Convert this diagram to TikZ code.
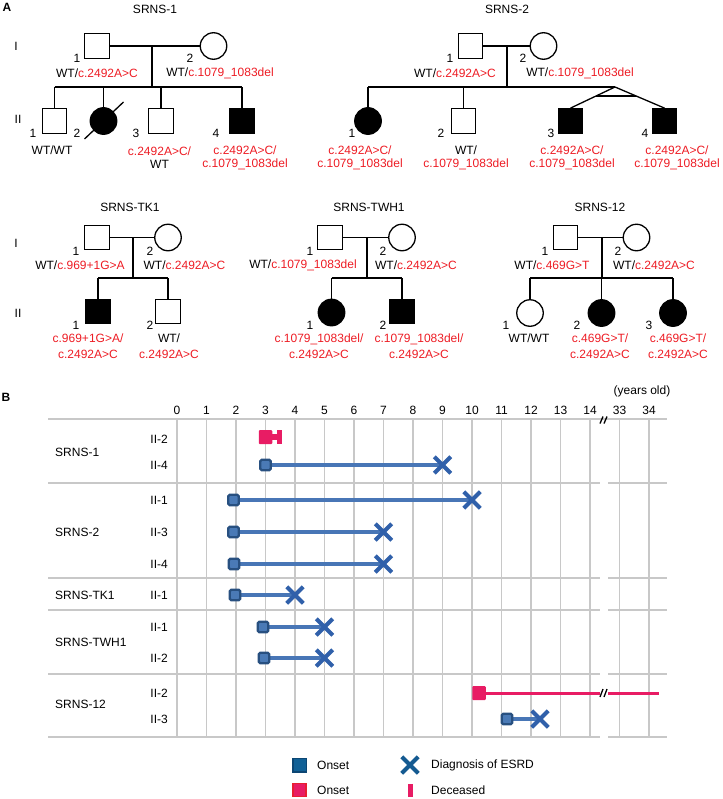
\documentclass[tikz,border=0pt]{standalone}
\usepackage{fontspec}
\setmainfont{Liberation Sans}
\usepackage{xcolor}
\usetikzlibrary{calc,shapes.misc,backgrounds}
\definecolor{mutred}{RGB}{237,28,36}
\definecolor{gridgray}{RGB}{200,200,200}
\definecolor{barblue}{RGB}{72,118,182}
\definecolor{xblue}{RGB}{48,96,170}
\definecolor{onsetfill}{RGB}{74,122,182}
\definecolor{onsetedge}{RGB}{40,80,128}
\definecolor{pinkc}{RGB}{232,28,100}
\definecolor{legblue}{RGB}{16,96,150}
\definecolor{legedge}{RGB}{12,70,115}
\definecolor{legx}{RGB}{20,90,145}
\definecolor{legred}{RGB}{232,30,50}
\newcommand\mut[1]{\textcolor{mutred}{#1}}
\newcommand\pedA{\fontsize{12bp}{13bp}\selectfont}
\newcommand\pedB{\fontsize{12bp}{16.5bp}\selectfont}

\begin{document}
\begin{tikzpicture}[x=1bp,y=-1bp,
  male/.style={draw,rectangle,line width=1.3bp,minimum size=24.5bp,inner sep=0pt},
  female/.style={draw,circle,line width=1.3bp,minimum size=26.5bp,inner sep=0pt},
  aff/.style={fill=black},
  ln/.style={line width=1.3bp},
  lbl/.style={font=\pedA,inner sep=0pt},
  genoA/.style={font=\pedA,align=center,inner sep=0pt},
  genoB/.style={font=\pedB,align=center,inner sep=0pt},
  vgrid/.style={draw=gridgray,line width=1.2bp},
  hgrid/.style={draw=gridgray,line width=2.4bp},
  onset/.style={rectangle,draw=onsetedge,fill=onsetfill,line width=2.4bp,minimum size=10.5bp,inner sep=0pt,rounded corners=1.5bp},
  esrd/.style={cross out,draw=xblue,line width=4bp,minimum size=12.5bp,inner sep=0pt},
  bar/.style={draw=barblue,line width=4.5bp},
  deadon/.style={rectangle,fill=pinkc,minimum width=13.5bp,minimum height=14bp,inner sep=0pt,rounded corners=1bp},
  deadline/.style={draw=pinkc,line width=3bp},
  deceased/.style={rectangle,fill=pinkc,minimum width=4.5bp,minimum height=14bp,inner sep=0pt},
  brk/.style={line width=1.3bp}]
\useasboundingbox (0,0) rectangle (723,799);

% ---- panel A: pedigrees
\node[font=\pedA\bfseries] (pa) at (7,7.5) {A};
\node[lbl] (g1) at (16,46) {I};  \node[lbl] (g2) at (18,119) {II};
\node[lbl] (g3) at (16,243) {I}; \node[lbl] (g4) at (18,313) {II};

% SRNS-1
\node[lbl] (t1) at (155,9) {SRNS-1};
\node[male] (p1i1) at (97,46) {};
\node[female] (p1i2) at (213.5,46) {};
\coordinate (p1m) at (152,46); \coordinate (p1sib) at (152,87);
\node[male] (p1ii1) at (54.5,121) {};
\node[female,aff] (p1ii2) at (103.5,121) {};
\node[male] (p1ii3) at (161,121) {};
\node[male,aff] (p1ii4) at (242,121) {};
\draw[ln] (p1i1) -- (p1i2);
\draw[ln] (p1m) -- (p1sib);
\draw[ln] (p1ii1|-p1sib) -- (p1ii4|-p1sib);
\foreach \p in {p1ii1,p1ii2,p1ii3,p1ii4} \draw[ln] (\p|-p1sib) -- (\p);
\draw[ln] ([shift={(-19,18)}]p1ii2.center) -- ([shift={(20,-19)}]p1ii2.center);
\node[lbl] (n1a) at (77,58) {1};  \node[lbl] (n1b) at (190,58) {2};
\node[lbl] (n1c) at (33,133) {1}; \node[lbl] (n1d) at (77,133) {2};
\node[lbl] (n1e) at (136,133) {3}; \node[lbl] (n1f) at (216,133) {4};
\node[genoA] (q1a) at (97,73.5) {WT/\mut{c.2492A>C}};
\node[genoA] (q1b) at (220,73.5) {WT/\mut{c.1079\_1083del}};
\node[genoA] (q1c) at (52,150.5) {WT/WT};
\node[genoA] (q1d) at (159.5,157.5) {\mut{c.2492A>C/}\\WT};
\node[genoA] (q1e) at (245,157.5) {\mut{c.2492A>C/}\\\mut{c.1079\_1083del}};

% SRNS-2 (II-3 and II-4 are twins)
\node[lbl] (t2) at (507,9) {SRNS-2};
\node[male] (p2i1) at (470.5,46) {};
\node[female] (p2i2) at (543.5,46) {};
\coordinate (p2m) at (507,46); \coordinate (p2sib) at (507,87); \coordinate (p2tw) at (615,87);
\node[female,aff] (p2ii1) at (368,121) {};
\node[male] (p2ii2) at (463.5,121) {};
\node[male,aff] (p2ii3) at (570.5,121) {};
\node[male,aff] (p2ii4) at (664.5,121) {};
\draw[ln] (p2i1) -- (p2i2);
\draw[ln] (p2m) -- (p2sib);
\draw[ln] (p2ii1|-p2sib) -- (p2tw);
\draw[ln] (p2ii1|-p2sib) -- (p2ii1);
\draw[ln] (p2ii2|-p2sib) -- (p2ii2);
\draw[ln] (p2tw) -- (p2ii3.north);
\draw[ln] (p2tw) -- (p2ii4.north);
\draw[ln] ($(p2tw)!0.42!(p2ii3.north)$) -- ($(p2tw)!0.42!(p2ii4.north)$);
\node[lbl] (n2a) at (450,58) {1};  \node[lbl] (n2b) at (523,58) {2};
\node[lbl] (n2c) at (352,133) {1}; \node[lbl] (n2d) at (441,133) {2};
\node[lbl] (n2e) at (551,133) {3}; \node[lbl] (n2f) at (645,133) {4};
\node[genoA] (q2a) at (455,73.5) {WT/\mut{c.2492A>C}};
\node[genoA] (q2b) at (580,73.5) {WT/\mut{c.1079\_1083del}};
\node[genoA] (q2c) at (360,157.5) {\mut{c.2492A>C/}\\\mut{c.1079\_1083del}};
\node[genoA] (q2d) at (466,157.5) {WT/\\\mut{c.1079\_1083del}};
\node[genoA] (q2e) at (572,157.5) {\mut{c.2492A>C/}\\\mut{c.1079\_1083del}};
\node[genoA] (q2f) at (677,157.5) {\mut{c.2492A>C/}\\\mut{c.1079\_1083del}};

% SRNS-TK1
\node[lbl] (t3) at (130,207) {SRNS-TK1};
\node[male] (p3i1) at (97,237.5) {};
\node[female] (p3i2) at (168,237.5) {};
\coordinate (p3m) at (133,237.5); \coordinate (p3sib) at (133,278);
\node[male,aff] (p3ii1) at (98,311.5) {};
\node[male] (p3ii2) at (168,311.5) {};
\draw[ln] (p3i1) -- (p3i2);
\draw[ln] (p3m) -- (p3sib);
\draw[ln] (p3ii1|-p3sib) -- (p3ii2|-p3sib);
\foreach \p in {p3ii1,p3ii2} \draw[ln] (\p|-p3sib) -- (\p);
\node[lbl] (n3a) at (76,251) {1}; \node[lbl] (n3b) at (150,251) {2};
\node[lbl] (n3c) at (76,325) {1}; \node[lbl] (n3d) at (150,325) {2};
\node[genoA] (q3a) at (80,265) {WT/\mut{c.969+1G>A}};
\node[genoA] (q3b) at (184.5,265) {WT/\mut{c.2492A>C}};
\node[genoB] (q3c) at (88,346) {\mut{c.969+1G>A/}\\\mut{c.2492A>C}};
\node[genoB] (q3d) at (169,346) {WT/\\\mut{c.2492A>C}};

% SRNS-TWH1
\node[lbl] (t4) at (369,207) {SRNS-TWH1};
\node[male] (p4i1) at (330,237.5) {};
\node[female] (p4i2) at (402,237.5) {};
\coordinate (p4m) at (367,237.5); \coordinate (p4sib) at (367,278);
\node[female,aff] (p4ii1) at (331.5,312.5) {};
\node[male,aff] (p4ii2) at (402,311.5) {};
\draw[ln] (p4i1) -- (p4i2);
\draw[ln] (p4m) -- (p4sib);
\draw[ln] (p4ii1|-p4sib) -- (p4ii2|-p4sib);
\foreach \p in {p4ii1,p4ii2} \draw[ln] (\p|-p4sib) -- (\p);
\node[lbl] (n4a) at (310,251) {1}; \node[lbl] (n4b) at (383,251) {2};
\node[lbl] (n4c) at (310,325) {1}; \node[lbl] (n4d) at (383,325) {2};
\node[genoA] (q4a) at (303,265) {WT/\mut{c.1079\_1083del}};
\node[genoA] (q4b) at (416,265) {WT/\mut{c.2492A>C}};
\node[genoB] (q4c) at (319,346) {\mut{c.1079\_1083del/}\\\mut{c.2492A>C}};
\node[genoB] (q4d) at (419,346) {\mut{c.1079\_1083del/}\\\mut{c.2492A>C}};

% SRNS-12
\node[lbl] (t5) at (600,207) {SRNS-12};
\node[male] (p5i1) at (565.5,237.5) {};
\node[female] (p5i2) at (636.5,237.5) {};
\coordinate (p5m) at (602,237.5); \coordinate (p5sib) at (602,278);
\node[female] (p5ii1) at (530,313) {};
\node[female,aff] (p5ii2) at (601.5,313) {};
\node[female,aff] (p5ii3) at (673,313) {};
\draw[ln] (p5i1) -- (p5i2);
\draw[ln] (p5m) -- (p5sib);
\draw[ln] (p5ii1|-p5sib) -- (p5ii3|-p5sib);
\foreach \p in {p5ii1,p5ii2,p5ii3} \draw[ln] (\p|-p5sib) -- (\p);
\node[lbl] (n5a) at (545,251) {1}; \node[lbl] (n5b) at (618,251) {2};
\node[lbl] (n5c) at (506,325) {1}; \node[lbl] (n5d) at (577,325) {2}; \node[lbl] (n5e) at (649,325) {3};
\node[genoA] (q5a) at (552,265) {WT/\mut{c.469G>T}};
\node[genoA] (q5b) at (654,265) {WT/\mut{c.2492A>C}};
\node[genoA] (q5c) at (529,338) {WT/WT};
\node[genoB] (q5d) at (600,346) {\mut{c.469G>T/}\\\mut{c.2492A>C}};
\node[genoB] (q5e) at (678,346) {\mut{c.469G>T/}\\\mut{c.2492A>C}};

% ---- panel B: age chart, 1 year = 29.5bp, x=177 at 0
\node[font=\pedA\bfseries] (pb) at (6,397) {B};
\node[lbl] (yo) at (642,391) {(years old)};
\foreach \n in {0,...,14} \node[lbl] (tk\n) at ({177+29.5*\n},410) {\n};
\node[lbl] (tk33) at (619.5,410) {33}; \node[lbl] (tk34) at (649,410) {34};
\begin{scope}[on background layer]
  \foreach \n in {0,...,14} \draw[vgrid] ({177+29.5*\n},419) -- ({177+29.5*\n},737);
  \draw[vgrid] (619.5,419) -- (619.5,737); \draw[vgrid] (649,419) -- (649,737);
  \draw[hgrid] (48,419) -- (667,419);
  \foreach \yy in {483,578,610,674,737} {\draw[hgrid] (48,\yy) -- (600,\yy); \draw[hgrid] (608,\yy) -- (667,\yy);}
\end{scope}
\foreach \xx in {600,604} \draw[brk] (\xx,423.5) -- (\xx+3,416.5);

% family and patient labels
\node[lbl,anchor=west] (f1) at (55,452) {SRNS-1};
\node[lbl,anchor=west] (f2) at (55,532) {SRNS-2};
\node[lbl,anchor=west] (f3) at (55,595) {SRNS-TK1};
\node[lbl,anchor=west] (f4) at (55,642) {SRNS-TWH1};
\node[lbl,anchor=west] (f5) at (55,704) {SRNS-12};
\foreach \yy/\tx [count=\i] in {439/II-2,465/II-4,500/II-1,532/II-3,564/II-4,595/II-1,627/II-1,658/II-2,693/II-2,719/II-3}
  \node[lbl,anchor=east] (r\i) at (168,\yy) {\tx};

% onset and ESRD
\node[deadon] (dd1) at (265.5,437) {};
\node[deceased] (de1) at (279.5,437) {};
\node[onset] (on2) at (265.5,465) {};   \node[esrd] (dx2) at (442.5,465) {};
\node[onset] (on3) at (233.5,500) {};   \node[esrd] (dx3) at (472,500) {};
\node[onset] (on4) at (233.5,532) {};   \node[esrd] (dx4) at (383.5,532) {};
\node[onset] (on5) at (234,564) {};     \node[esrd] (dx5) at (383.5,564) {};
\node[onset] (on6) at (235,595) {};     \node[esrd] (dx6) at (295,595) {};
\node[onset] (on7) at (263,627) {};     \node[esrd] (dx7) at (324.5,627) {};
\node[onset] (on8) at (264,658) {};     \node[esrd] (dx8) at (324.5,658) {};
\node[deadon] (dd9) at (479,693) {};
\coordinate (b9a) at (600,693); \coordinate (b9b) at (608,693); \coordinate (e9) at (659,693);
\node[onset] (on10) at (507,719) {};   \node[esrd] (dx10) at (540,719) {};
\begin{scope}[on background layer]
  \draw[pinkc,line width=6bp] (dd1.center) -- (de1.center);
  \foreach \i in {2,...,8,10} \draw[bar] (on\i.center) -- (dx\i.center);
  \draw[deadline] (dd9.center) -- (b9a);
  \draw[deadline] (b9b) -- (e9);
\end{scope}
\foreach \xx in {600,604} \draw[brk] (\xx,697) -- (\xx+3,689);

% legend
\node[rectangle,draw=legedge,fill=legblue,line width=1.5bp,minimum size=13.5bp,inner sep=0pt] (l1) at (299.5,765) {};
\node[lbl,anchor=west] (l1t) at (317,765) {Onset};
\node[rectangle,draw=legred,fill=pinkc,line width=1.2bp,minimum size=13bp,inner sep=0pt] (l2) at (299.5,790) {};
\node[lbl,anchor=west] (l2t) at (317,790) {Onset};
\node[esrd,draw=legx] (l3) at (410,765) {};
\node[lbl,anchor=west] (l3t) at (431,765) {Diagnosis of ESRD};
\node[deceased,minimum height=13bp] (l4) at (410.5,790.5) {};
\node[lbl,anchor=west] (l4t) at (431,790) {Deceased};
\end{tikzpicture}
\end{document}
